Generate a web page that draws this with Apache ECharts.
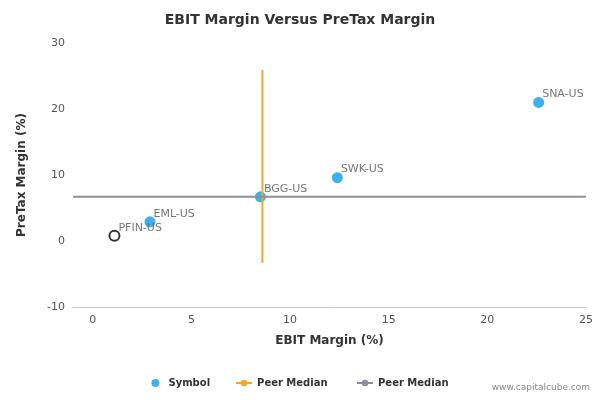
<!DOCTYPE html>
<html><head><meta charset="utf-8">
<script src="https://cdn.jsdelivr.net/npm/echarts@6/dist/echarts.min.js"></script>
<style>html,body{margin:0;padding:0;background:#fff}#c{width:600px;height:400px}</style>
</head><body><div id="c"></div>
<script>
const symbols = ['SNA-US','SWK-US','BGG-US','EML-US'];
const ebit = [22.6, 12.4, 8.5, 2.9];
const pretax = [21.0, 9.6, 6.7, 2.9];
const focusName = 'PFIN-US';
const focusPoint = [1.1, 0.8];
const peerMedianX = [8.6, 8.6];
const peerMedianXY = [25.9, -3.3];
const peerMedianYX = [-1, 25];
const peerMedianY = [6.7, 6.7];
const xTicks = [0,5,10,15,20,25];

const chart = echarts.init(document.getElementById('c'));
const lbl = {show:true, position:'right', distance:-2, offset:[0,-8], color:'#555', fontSize:11, fontFamily:'DejaVu Sans', formatter:p=>p.data[2]};
chart.setOption({
  animation:false,
  title:{text:'EBIT Margin Versus PreTax Margin', left:'center', top:8, textStyle:{fontFamily:'DejaVu Sans', fontSize:14, fontWeight:'bold', color:'#333'}},
  grid:{left:73, right:14, top:43, bottom:93},
  xAxis:{type:'value', min:-1, max:25, interval:5, name:'EBIT Margin (%)', nameLocation:'middle', nameGap:28,
    nameTextStyle:{fontFamily:'DejaVu Sans', fontWeight:'bold', fontSize:12, color:'#333'},
    axisLine:{show:true, onZero:false, lineStyle:{color:'#ccc'}}, axisTick:{show:false}, splitLine:{show:false},
    axisLabel:{color:'#555', fontSize:11, fontFamily:'DejaVu Sans', customValues:xTicks, formatter:v=>v}},
  yAxis:{type:'value', min:-10, max:30, interval:10, name:'PreTax Margin (%)', nameLocation:'middle', nameGap:45,
    nameTextStyle:{fontFamily:'DejaVu Sans', fontWeight:'bold', fontSize:12, color:'#333'},
    axisLine:{show:false}, axisTick:{show:false}, splitLine:{show:false},
    axisLabel:{color:'#555', fontSize:11, fontFamily:'DejaVu Sans'}},
  legend:{bottom:7, left:'center', itemGap:25, itemWidth:16, itemHeight:8, textStyle:{fontFamily:'DejaVu Sans', fontSize:10, fontWeight:'bold', color:'#333'},
    data:[{name:'Symbol', icon:'circle', itemStyle:{}}, {name:'Peer Median '}, {name:'Peer Median'}]},
  graphic:[{type:'text', right:10, bottom:8, style:{text:'www.capitalcube.com', fill:'#888', fontSize:9, fontFamily:'DejaVu Sans'}}],
  series:[
    {name:'Peer Median ', type:'line', data:[[peerMedianX[0],peerMedianXY[0]],[peerMedianX[1],peerMedianXY[1]]], symbol:'none', legendIcon:'diamond', lineStyle:{color:'#f5a623', width:2}, itemStyle:{color:'#f5a623'}},
    {name:'Peer Median', type:'line', data:[[peerMedianYX[0],peerMedianY[0]],[peerMedianYX[1],peerMedianY[1]]], symbol:'none', legendIcon:'rect', lineStyle:{color:'#8a8f99', width:2}, itemStyle:{color:'#8a8f99'}},
    {name:'Symbol', type:'scatter', symbolSize:11, itemStyle:{color:'#0a9ee8'}, label:lbl,
      data:symbols.map((s,i)=>[ebit[i], pretax[i], s])},
    {name:'focus', type:'scatter', symbolSize:10, itemStyle:{color:'#fff', borderColor:'#000', borderWidth:2}, label:lbl,
      data:[[focusPoint[0], focusPoint[1], focusName]]}
  ]
});
</script></body></html>
